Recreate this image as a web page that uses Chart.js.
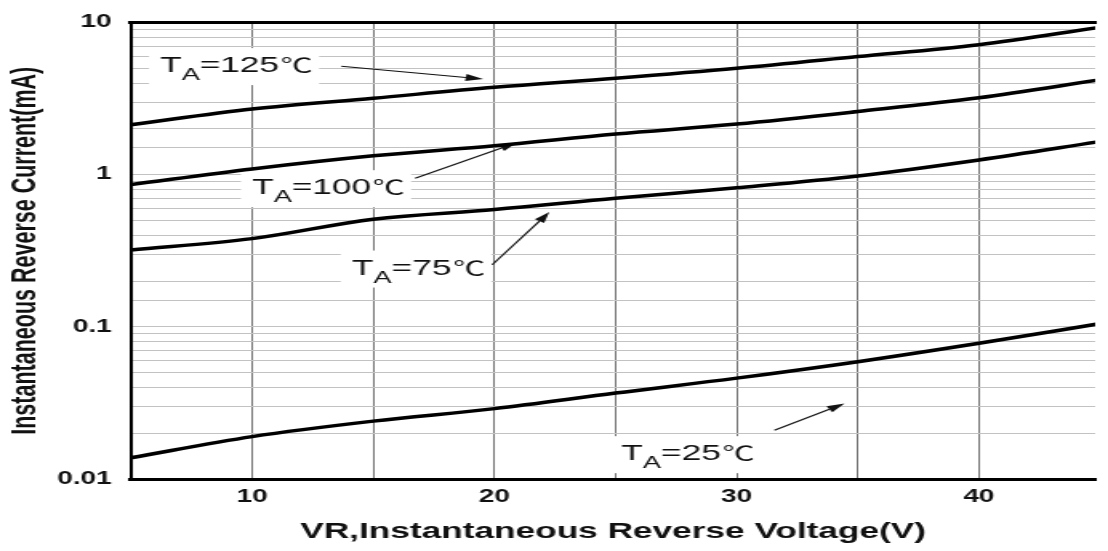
<!DOCTYPE html>
<html>
<head>
<meta charset="utf-8">
<script src="https://cdn.jsdelivr.net/npm/chart.js@4/dist/chart.umd.min.js"></script>
<style>
  html, body { margin: 0; padding: 0; background: #fff; }
  /* the original figure is stretched sideways, so the canvas is drawn narrow and widened */
  #chart { display: block; width: 1108px !important; height: 551px !important; }
</style>
</head>
<body>
<canvas id="chart" width="692" height="551"></canvas>
<script>
// reverse voltage (V)
var voltage = [5, 10, 15, 20, 25, 30, 35, 40, 45];

// reverse current (mA) for each ambient temperature
var ta125 = [2.13, 2.70, 3.18, 3.75, 4.30, 5.00, 5.97, 7.15, 9.3];
var ta100 = [0.86, 1.09, 1.33, 1.55, 1.85, 2.15, 2.60, 3.20, 4.2];
var ta75 = [0.32, 0.38, 0.51, 0.59, 0.70, 0.82, 0.98, 1.25, 1.65];
var ta25 = [0.0138, 0.019, 0.024, 0.029, 0.0367, 0.046, 0.059, 0.078, 0.105];

var yTickLabels = [0.01, 0.1, 1, 10];
var xTickLabels = [10, 20, 30, 40];

// curve labels: temperature, text position and arrow (all in data units)
var notes = [
  { temp: "125", at: [6.2, 4.72], from: [13.68, 5.16], to: [19.54, 4.25] },
  { temp: "100", at: [10.0, 0.744], from: [16.73, 0.946], to: [20.93, 1.625] },
  { temp: "75", at: [14.12, 0.2206], from: [19.91, 0.256], to: [22.27, 0.568] },
  { temp: "25", at: [25.24, 0.0133], from: [31.56, 0.0209], to: [34.45, 0.0313] }
];

var FONT = "'Liberation Sans', Arial, sans-serif";
var CJK = "'Noto Sans CJK SC', 'Noto Sans CJK JP', sans-serif";

function series(values) {
  return {
    data: voltage.map(function (v, i) { return { x: v, y: values[i] }; }),
    borderColor: "#000",
    borderWidth: 3.5,
    pointRadius: 0,
    cubicInterpolationMode: "monotone",
    fill: false
  };
}

var labelPlugin = {
  id: "curveLabels",
  beforeDatasetsDraw: function (chart) {
    var ctx = chart.ctx;
    var xs = chart.scales.x, ys = chart.scales.y;
    ctx.save();
    notes.forEach(function (n) {
      var px = xs.getPixelForValue(n.at[0]);
      var py = ys.getPixelForValue(n.at[1]);
      var rest = "=" + n.temp;
      ctx.font = "22px " + FONT;
      var wT = ctx.measureText("T").width;
      var wR = ctx.measureText(rest).width;
      ctx.font = "17px " + FONT;
      var wA = ctx.measureText("A").width;
      ctx.font = "20px " + CJK;
      var wC = ctx.measureText("\u2103").width;
      var total = wT + wA + wR + wC;

      ctx.fillStyle = "#fff";
      ctx.fillRect(px - 7, py - 24, total + 12, 37);

      ctx.fillStyle = "#111";
      ctx.textBaseline = "alphabetic";
      ctx.textAlign = "left";
      ctx.font = "22px " + FONT;
      ctx.fillText("T", px, py);
      ctx.font = "17px " + FONT;
      ctx.fillText("A", px + wT, py + 8);
      ctx.font = "22px " + FONT;
      ctx.fillText(rest, px + wT + wA, py);
      ctx.font = "20px " + CJK;
      ctx.fillText("\u2103", px + wT + wA + wR + 1, py + 1);

      // arrow
      var x1 = xs.getPixelForValue(n.from[0]), y1 = ys.getPixelForValue(n.from[1]);
      var x2 = xs.getPixelForValue(n.to[0]), y2 = ys.getPixelForValue(n.to[1]);
      var ang = Math.atan2(y2 - y1, x2 - x1);
      var len = 11, half = 3.5;
      var bx = x2 - len * Math.cos(ang), by = y2 - len * Math.sin(ang);
      ctx.strokeStyle = "#111";
      ctx.lineWidth = 1.2;
      ctx.beginPath();
      ctx.moveTo(x1, y1);
      ctx.lineTo(bx, by);
      ctx.stroke();
      ctx.beginPath();
      ctx.moveTo(x2, y2);
      ctx.lineTo(bx - half * Math.sin(ang), by + half * Math.cos(ang));
      ctx.lineTo(bx + half * Math.sin(ang), by - half * Math.cos(ang));
      ctx.closePath();
      ctx.fill();
    });
    ctx.restore();
  }
};

var ctx = document.getElementById("chart").getContext("2d");
var chart = new Chart(ctx, {
  type: "line",
  data: {
    datasets: [series(ta125), series(ta100), series(ta75), series(ta25)]
  },
  options: {
    responsive: false,
    animation: false,
    devicePixelRatio: 1,
    layout: { padding: { top: 19, right: 0, bottom: 0, left: 0 } },
    plugins: {
      legend: { display: false },
      tooltip: { enabled: false }
    },
    scales: {
      x: {
        type: "linear",
        min: 5,
        max: 44.8,
        grid: {
          drawTicks: false,
          lineWidth: 1,
          color: function (c) {
            return c.tick && c.tick.value % 5 === 0 ? "#747474" : "rgba(0,0,0,0)";
          }
        },
        border: { display: true, color: "#000", width: 3 },
        ticks: {
          stepSize: 5,
          autoSkip: false,
          maxRotation: 0,
          padding: 8,
          color: "#111",
          font: { family: FONT, size: 17.5, weight: "bold" },
          callback: function (v) {
            return xTickLabels.indexOf(v) >= 0 ? String(v) : "";
          }
        },
        title: {
          display: true,
          text: "VR,Instantaneous Reverse Voltage(V)",
          color: "#111",
          font: { family: FONT, size: 22, weight: "bold" },
          padding: { top: 0, bottom: 6 }
        },
        afterFit: function (s) { s.height = 72; }
      },
      x2: {
        type: "linear",
        position: "top",
        min: 5,
        max: 44.8,
        grid: { display: false, drawTicks: false },
        ticks: { display: false },
        border: { display: true, color: "#000", width: 3 },
        afterFit: function (s) { s.height = 0; }
      },
      y: {
        type: "logarithmic",
        min: 0.01,
        max: 10,
        grid: { drawTicks: false, color: "#c2c2c2", lineWidth: 1 },
        border: { display: true, color: "#000", width: 2 },
        ticks: {
          autoSkip: false,
          padding: 12,
          color: "#111",
          font: { family: FONT, size: 17.5, weight: "bold" },
          callback: function (v) {
            for (var i = 0; i < yTickLabels.length; i++) {
              if (Math.abs(v - yTickLabels[i]) < yTickLabels[i] * 1e-6) return String(yTickLabels[i]);
            }
            return "";
          }
        },
        title: {
          display: true,
          text: "Instantaneous Reverse Current(mA)",
          color: "#111",
          font: { family: FONT, size: 21.5, weight: "bold" },
          padding: { top: 3, bottom: 0 }
        },
        afterFit: function (s) { s.width = 81.8; }
      }
    }
  },
  plugins: [labelPlugin]
});
</script>
</body>
</html>
